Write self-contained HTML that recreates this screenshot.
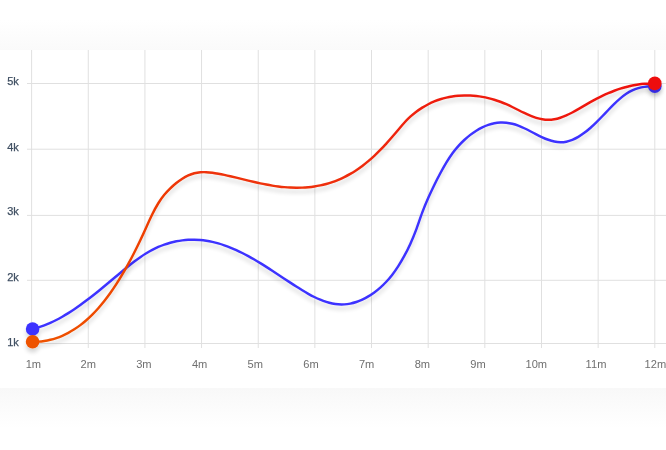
<!DOCTYPE html>
<html lang="en">
<head>
<meta charset="utf-8">
<title>Chart</title>
<style>
html,body{margin:0;padding:0;background:#fff;}
body{width:666px;height:450px;overflow:hidden;font-family:"Liberation Sans",sans-serif;}
svg{display:block;}
.grid line{stroke:#e0e0e0;stroke-width:1;shape-rendering:auto;}
.ylab text{font-family:"Liberation Sans",sans-serif;font-size:11px;fill:#3f4f62;stroke:#3f4f62;stroke-width:0.25;}
.xlab text{font-family:"Liberation Sans",sans-serif;font-size:11.1px;fill:#6f6f6f;}
</style>
</head>
<body>
<svg width="666" height="450" viewBox="0 0 666 450">
<defs>
<linearGradient id="gt" x1="0" y1="0" x2="0" y2="1"><stop offset="0" stop-color="#ffffff"/><stop offset="1" stop-color="#fafafa"/></linearGradient>
<linearGradient id="gb" x1="0" y1="0" x2="0" y2="1"><stop offset="0" stop-color="#f8f8f8"/><stop offset="1" stop-color="#ffffff"/></linearGradient>
<linearGradient id="gr" x1="0" y1="1" x2="1" y2="0"><stop offset="0" stop-color="#ee5200"/><stop offset="1" stop-color="#ee1010"/></linearGradient>
<filter id="sh" x="-5%" y="-20%" width="110%" height="150%"><feGaussianBlur in="SourceAlpha" stdDeviation="2.2"/><feOffset dx="0" dy="3.6" result="o"/><feComponentTransfer><feFuncA type="linear" slope="0.16"/></feComponentTransfer><feMerge><feMergeNode/><feMergeNode in="SourceGraphic"/></feMerge></filter>
</defs>
<rect x="0" y="0" width="666" height="450" fill="#ffffff"/>
<rect x="0" y="20" width="666" height="30" fill="url(#gt)"/>
<rect x="0" y="388" width="666" height="40" fill="url(#gb)"/>
<rect x="0" y="50" width="666" height="338" fill="#ffffff"/>
<g class="grid">
<line x1="31.60" y1="50" x2="31.60" y2="348" />
<line x1="88.25" y1="50" x2="88.25" y2="348" />
<line x1="144.91" y1="50" x2="144.91" y2="348" />
<line x1="201.56" y1="50" x2="201.56" y2="348" />
<line x1="258.22" y1="50" x2="258.22" y2="348" />
<line x1="314.87" y1="50" x2="314.87" y2="348" />
<line x1="371.53" y1="50" x2="371.53" y2="348" />
<line x1="428.18" y1="50" x2="428.18" y2="348" />
<line x1="484.84" y1="50" x2="484.84" y2="348" />
<line x1="541.49" y1="50" x2="541.49" y2="348" />
<line x1="598.15" y1="50" x2="598.15" y2="348" />
<line x1="654.80" y1="50" x2="654.80" y2="348" />
<line x1="27" y1="83.50" x2="666" y2="83.50" />
<line x1="27" y1="149.20" x2="666" y2="149.20" />
<line x1="27" y1="215.40" x2="666" y2="215.40" />
<line x1="27" y1="280.30" x2="666" y2="280.30" />
<line x1="27" y1="343.50" x2="666" y2="343.50" />
</g>
<g class="ylab" opacity="0.999">
<text x="7.2" y="85.00">5k</text>
<text x="7.2" y="150.80">4k</text>
<text x="7.2" y="215.30">3k</text>
<text x="7.2" y="280.90">2k</text>
<text x="7.2" y="346.10">1k</text>
</g>
<g class="xlab" opacity="0.999">
<text x="33.40" y="367.8" text-anchor="middle">1m</text>
<text x="88.25" y="367.8" text-anchor="middle">2m</text>
<text x="143.90" y="367.8" text-anchor="middle">3m</text>
<text x="199.60" y="367.8" text-anchor="middle">4m</text>
<text x="255.20" y="367.8" text-anchor="middle">5m</text>
<text x="311.00" y="367.8" text-anchor="middle">6m</text>
<text x="366.60" y="367.8" text-anchor="middle">7m</text>
<text x="422.40" y="367.8" text-anchor="middle">8m</text>
<text x="478.00" y="367.8" text-anchor="middle">9m</text>
<text x="536.30" y="367.8" text-anchor="middle">10m</text>
<text x="596.00" y="367.8" text-anchor="middle">11m</text>
<text x="655.40" y="367.8" text-anchor="middle">12m</text>
</g>
<g filter="url(#sh)">
<path d="M32.30 328.80 C34.30 328.39 36.30 327.89 38.30 327.31 C40.30 326.72 42.30 326.06 44.30 325.31 C46.30 324.57 48.30 323.75 50.30 322.86 C52.30 321.97 54.30 321.01 56.30 319.99 C58.30 318.96 60.30 317.87 62.30 316.73 C64.30 315.58 66.30 314.38 68.30 313.12 C70.30 311.86 72.30 310.55 74.30 309.20 C76.30 307.85 78.30 306.45 80.30 305.01 C82.30 303.57 84.30 302.10 86.30 300.59 C88.30 299.08 90.30 297.53 92.30 295.96 C94.30 294.39 96.30 292.80 98.30 291.18 C100.30 289.56 102.30 287.93 104.30 286.27 C106.30 284.62 108.30 282.96 110.30 281.28 C112.30 279.61 114.30 277.93 116.30 276.25 C118.30 274.56 120.30 272.88 122.30 271.21 C124.30 269.54 126.30 267.88 128.30 266.26 C130.30 264.65 132.30 263.07 134.30 261.54 C136.30 260.02 138.30 258.55 140.30 257.16 C142.30 255.77 144.30 254.46 146.30 253.24 C148.30 252.02 150.30 250.89 152.30 249.85 C154.30 248.80 156.30 247.85 158.30 246.98 C160.30 246.11 162.30 245.32 164.30 244.61 C166.30 243.90 168.30 243.28 170.30 242.73 C172.30 242.18 174.30 241.71 176.30 241.32 C178.30 240.92 180.30 240.60 182.30 240.35 C184.30 240.11 186.30 239.93 188.30 239.83 C190.30 239.73 192.30 239.70 194.30 239.74 C196.30 239.78 198.30 239.89 200.30 240.07 C202.30 240.24 204.30 240.49 206.30 240.80 C208.30 241.11 210.30 241.48 212.30 241.92 C214.30 242.36 216.30 242.86 218.30 243.43 C220.30 243.99 222.30 244.62 224.30 245.31 C226.30 245.99 228.30 246.74 230.30 247.55 C232.30 248.35 234.30 249.21 236.30 250.13 C238.30 251.04 240.30 252.00 242.30 253.01 C244.30 254.02 246.30 255.08 248.30 256.17 C250.30 257.26 252.30 258.39 254.30 259.56 C256.30 260.72 258.30 261.92 260.30 263.14 C262.30 264.36 264.30 265.61 266.30 266.88 C268.30 268.14 270.30 269.43 272.30 270.73 C274.30 272.04 276.30 273.35 278.30 274.67 C280.30 276.00 282.30 277.33 284.30 278.66 C286.30 279.99 288.30 281.32 290.30 282.64 C292.30 283.97 294.30 285.28 296.30 286.56 C298.30 287.85 300.30 289.10 302.30 290.32 C304.30 291.54 306.30 292.71 308.30 293.83 C310.30 294.94 312.30 296.00 314.30 296.99 C316.30 297.97 318.30 298.89 320.30 299.71 C322.30 300.54 324.30 301.27 326.30 301.90 C328.30 302.54 330.30 303.06 332.30 303.47 C334.30 303.88 336.30 304.17 338.30 304.33 C340.30 304.48 342.30 304.50 344.30 304.37 C346.30 304.25 348.30 303.99 350.30 303.60 C352.30 303.20 354.30 302.67 356.30 302.00 C358.30 301.33 360.30 300.53 362.30 299.60 C364.30 298.67 366.30 297.61 368.30 296.41 C370.30 295.22 372.30 293.90 374.30 292.44 C376.30 290.99 378.30 289.39 380.30 287.62 C382.30 285.85 384.30 283.91 386.30 281.76 C388.30 279.61 390.30 277.25 392.30 274.65 C394.30 272.05 396.30 269.21 398.30 266.10 C400.30 262.99 402.30 259.61 404.30 255.92 C406.30 252.23 408.30 248.25 410.30 243.89 C412.30 239.53 414.30 234.77 416.30 229.35 C418.30 223.93 420.30 217.74 422.30 212.43 C424.30 207.12 426.30 202.37 428.30 197.85 C430.30 193.33 432.30 189.05 434.30 184.97 C436.30 180.89 438.30 177.01 440.30 173.29 C442.30 169.56 444.30 165.98 446.30 162.64 C448.30 159.31 450.30 156.23 452.30 153.48 C454.30 150.73 456.30 148.28 458.30 146.07 C460.30 143.85 462.30 141.85 464.30 140.00 C466.30 138.15 468.30 136.45 470.30 134.89 C472.30 133.34 474.30 131.93 476.30 130.66 C478.30 129.40 480.30 128.28 482.30 127.31 C484.30 126.34 486.30 125.52 488.30 124.84 C490.30 124.16 492.30 123.63 494.30 123.25 C496.30 122.87 498.30 122.63 500.30 122.54 C502.30 122.45 504.30 122.50 506.30 122.71 C508.30 122.91 510.30 123.26 512.30 123.76 C514.30 124.25 516.30 124.90 518.30 125.67 C520.30 126.44 522.30 127.32 524.30 128.26 C526.30 129.21 528.30 130.22 530.30 131.25 C532.30 132.28 534.30 133.33 536.30 134.35 C538.30 135.37 540.30 136.37 542.30 137.28 C544.30 138.20 546.30 139.04 548.30 139.76 C550.30 140.48 552.30 141.08 554.30 141.51 C556.30 141.94 558.30 142.20 560.30 142.24 C562.30 142.28 564.30 142.10 566.30 141.69 C568.30 141.28 570.30 140.66 572.30 139.85 C574.30 139.04 576.30 138.03 578.30 136.86 C580.30 135.68 582.30 134.34 584.30 132.85 C586.30 131.36 588.30 129.73 590.30 127.98 C592.30 126.22 594.30 124.34 596.30 122.37 C598.30 120.40 600.30 118.35 602.30 116.27 C604.30 114.19 606.30 112.08 608.30 110.01 C610.30 107.94 612.30 105.90 614.30 103.95 C616.30 102.00 618.30 100.14 620.30 98.43 C622.30 96.72 624.30 95.16 626.30 93.81 C628.30 92.46 630.30 91.34 632.30 90.41 C634.30 89.48 636.30 88.74 638.30 88.16 C640.30 87.58 642.30 87.16 644.30 86.86 C646.30 86.56 648.30 86.38 650.30 86.29 C651.80 86.22 653.30 86.19 654.80 86.20" fill="none" stroke="#3c33ff" stroke-width="2.45" stroke-linecap="round"/>
<circle cx="32.6" cy="329" r="6.8" fill="#3c33ff"/>
<circle cx="654.8" cy="86.2" r="6.8" fill="#3c33ff"/>
</g>
<g filter="url(#sh)">
<path d="M32.30 341.80 C34.30 341.81 36.30 341.75 38.30 341.61 C40.30 341.47 42.30 341.25 44.30 340.95 C46.30 340.64 48.30 340.25 50.30 339.77 C52.30 339.29 54.30 338.72 56.30 338.05 C58.30 337.38 60.30 336.62 62.30 335.76 C64.30 334.90 66.30 333.93 68.30 332.86 C70.30 331.79 72.30 330.62 74.30 329.33 C76.30 328.05 78.30 326.65 80.30 325.13 C82.30 323.62 84.30 321.99 86.30 320.24 C88.30 318.49 90.30 316.61 92.30 314.61 C94.30 312.61 96.30 310.49 98.30 308.23 C100.30 305.97 102.30 303.58 104.30 301.05 C106.30 298.53 108.30 295.86 110.30 293.06 C112.30 290.25 114.30 287.30 116.30 284.20 C118.30 281.11 120.30 277.86 122.30 274.47 C124.30 271.08 126.30 267.55 128.30 263.87 C130.30 260.20 132.30 256.39 134.30 252.44 C136.30 248.49 138.30 244.41 140.30 240.20 C142.30 235.98 144.30 231.62 146.30 227.18 C148.30 222.73 150.30 218.28 152.30 214.23 C154.30 210.17 156.30 206.47 158.30 203.24 C160.30 200.00 162.30 197.26 164.30 194.84 C166.30 192.41 168.30 190.31 170.30 188.37 C172.30 186.42 174.30 184.63 176.30 183.02 C178.30 181.40 180.30 179.95 182.30 178.68 C184.30 177.42 186.30 176.33 188.30 175.42 C190.30 174.52 192.30 173.80 194.30 173.28 C196.30 172.76 198.30 172.44 200.30 172.26 C202.30 172.09 204.30 172.08 206.30 172.17 C208.30 172.26 210.30 172.47 212.30 172.74 C214.30 173.01 216.30 173.35 218.30 173.72 C220.30 174.09 222.30 174.49 224.30 174.91 C226.30 175.33 228.30 175.77 230.30 176.23 C232.30 176.69 234.30 177.17 236.30 177.65 C238.30 178.14 240.30 178.63 242.30 179.12 C244.30 179.61 246.30 180.10 248.30 180.59 C250.30 181.07 252.30 181.55 254.30 182.02 C256.30 182.48 258.30 182.93 260.30 183.35 C262.30 183.78 264.30 184.18 266.30 184.56 C268.30 184.94 270.30 185.29 272.30 185.61 C274.30 185.93 276.30 186.22 278.30 186.48 C280.30 186.73 282.30 186.96 284.30 187.14 C286.30 187.32 288.30 187.47 290.30 187.57 C292.30 187.67 294.30 187.73 296.30 187.75 C298.30 187.76 300.30 187.73 302.30 187.64 C304.30 187.56 306.30 187.43 308.30 187.24 C310.30 187.05 312.30 186.81 314.30 186.51 C316.30 186.20 318.30 185.84 320.30 185.42 C322.30 185.00 324.30 184.51 326.30 183.96 C328.30 183.41 330.30 182.79 332.30 182.10 C334.30 181.41 336.30 180.65 338.30 179.81 C340.30 178.98 342.30 178.07 344.30 177.08 C346.30 176.09 348.30 175.03 350.30 173.88 C352.30 172.73 354.30 171.49 356.30 170.17 C358.30 168.85 360.30 167.45 362.30 165.95 C364.30 164.45 366.30 162.86 368.30 161.18 C370.30 159.49 372.30 157.71 374.30 155.84 C376.30 153.96 378.30 152.00 380.30 149.95 C382.30 147.90 384.30 145.77 386.30 143.58 C388.30 141.38 390.30 139.12 392.30 136.81 C394.30 134.49 396.30 132.11 398.30 129.72 C400.30 127.33 402.30 124.96 404.30 122.76 C406.30 120.56 408.30 118.55 410.30 116.72 C412.30 114.88 414.30 113.22 416.30 111.71 C418.30 110.19 420.30 108.83 422.30 107.59 C424.30 106.35 426.30 105.24 428.30 104.22 C430.30 103.21 432.30 102.29 434.30 101.47 C436.30 100.65 438.30 99.93 440.30 99.29 C442.30 98.66 444.30 98.11 446.30 97.64 C448.30 97.17 450.30 96.79 452.30 96.48 C454.30 96.17 456.30 95.94 458.30 95.77 C460.30 95.61 462.30 95.51 464.30 95.48 C466.30 95.45 468.30 95.48 470.30 95.57 C472.30 95.66 474.30 95.82 476.30 96.03 C478.30 96.25 480.30 96.53 482.30 96.87 C484.30 97.21 486.30 97.62 488.30 98.10 C490.30 98.57 492.30 99.11 494.30 99.72 C496.30 100.32 498.30 101.00 500.30 101.74 C502.30 102.49 504.30 103.30 506.30 104.18 C508.30 105.07 510.30 106.02 512.30 107.00 C514.30 107.98 516.30 108.99 518.30 109.99 C520.30 110.99 522.30 111.98 524.30 112.93 C526.30 113.88 528.30 114.79 530.30 115.61 C532.30 116.43 534.30 117.18 536.30 117.80 C538.30 118.42 540.30 118.92 542.30 119.27 C544.30 119.62 546.30 119.81 548.30 119.81 C550.30 119.81 552.30 119.61 554.30 119.25 C556.30 118.89 558.30 118.36 560.30 117.71 C562.30 117.06 564.30 116.27 566.30 115.39 C568.30 114.51 570.30 113.53 572.30 112.48 C574.30 111.43 576.30 110.32 578.30 109.17 C580.30 108.03 582.30 106.85 584.30 105.67 C586.30 104.49 588.30 103.31 590.30 102.16 C592.30 101.01 594.30 99.89 596.30 98.84 C598.30 97.78 600.30 96.77 602.30 95.82 C604.30 94.86 606.30 93.96 608.30 93.12 C610.30 92.27 612.30 91.47 614.30 90.73 C616.30 89.99 618.30 89.31 620.30 88.68 C622.30 88.05 624.30 87.47 626.30 86.95 C628.30 86.43 630.30 85.97 632.30 85.56 C634.30 85.15 636.30 84.80 638.30 84.51 C640.30 84.21 642.30 83.98 644.30 83.80 C646.30 83.62 648.30 83.50 650.30 83.44 C651.80 83.39 653.30 83.38 654.80 83.40" fill="none" stroke="url(#gr)" stroke-width="2.45" stroke-linecap="round"/>
<circle cx="32.6" cy="341.7" r="6.8" fill="#ee5200"/>
<circle cx="654.8" cy="83.4" r="6.8" fill="#ee1010"/>
</g>
</svg>
</body>
</html>
